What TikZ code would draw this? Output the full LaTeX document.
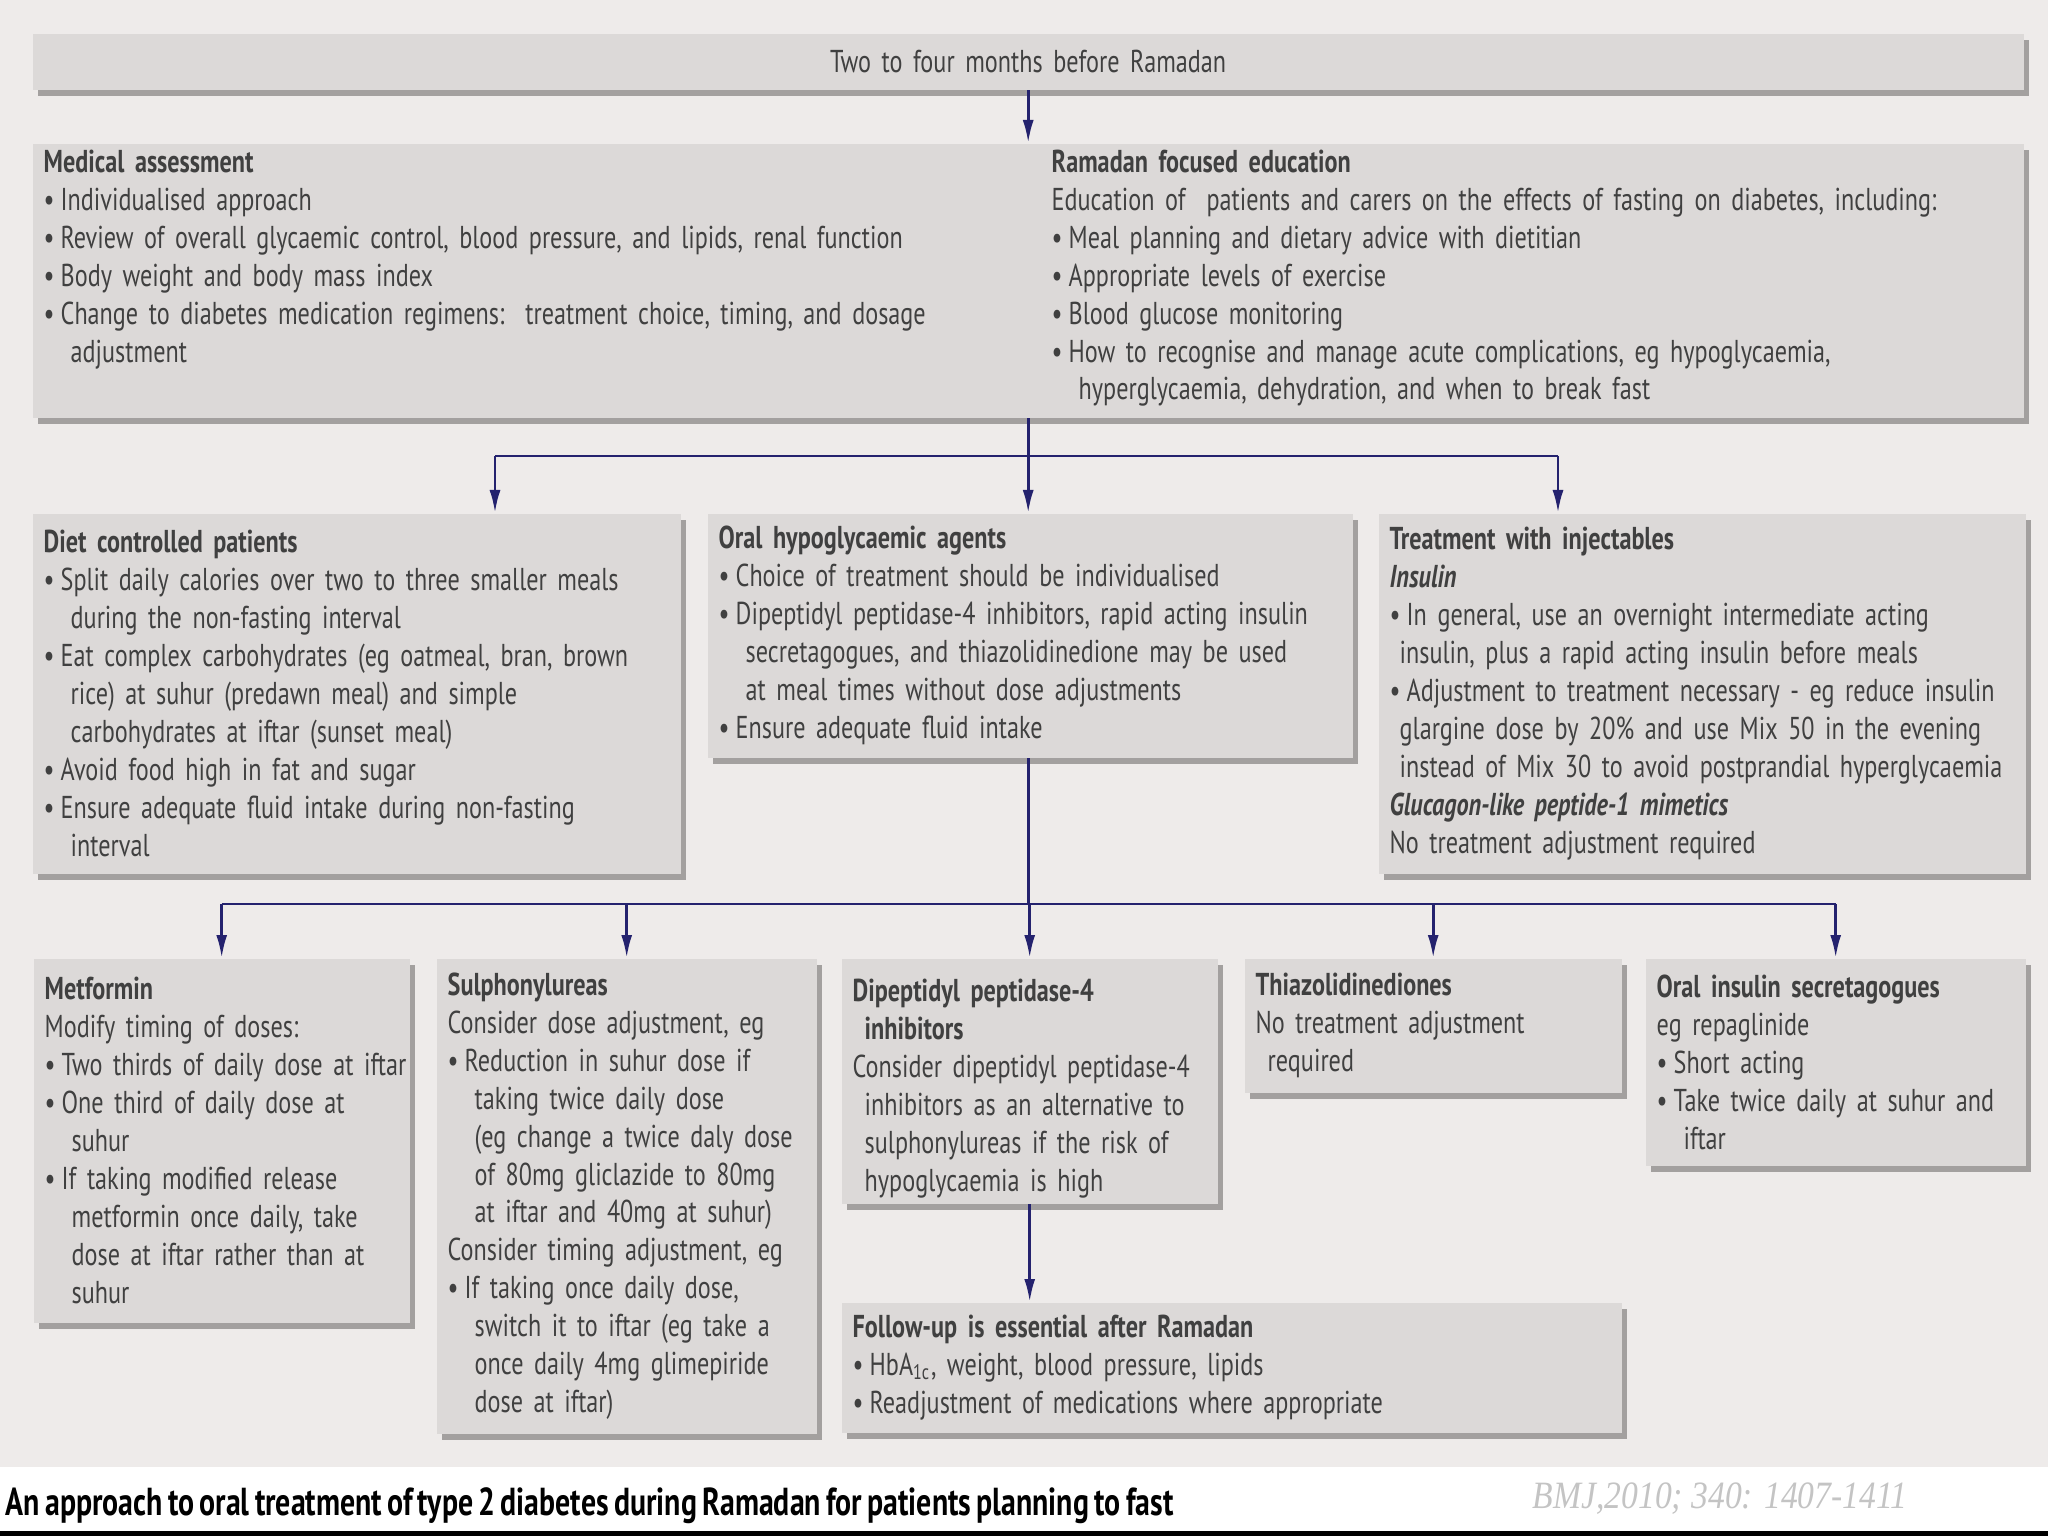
\documentclass[tikz,border=0pt]{standalone}
\usepackage{fontspec}
\setmainfont{PT Sans}[FakeStretch=0.765,WordSpace=0.7]
\newfontfamily\bmjfont{Liberation Serif}[FakeStretch=0.87]
\usepackage{xcolor}
\usetikzlibrary{arrows.meta,shadows}

\definecolor{panelgrey}{HTML}{EEEBEA}
\definecolor{boxgrey}{HTML}{DCD9D8}
\definecolor{shadowgrey}{HTML}{A3A09F}
\definecolor{textgrey}{HTML}{404040}
\definecolor{navy}{HTML}{24226E}
\definecolor{bmjgrey}{HTML}{C4C4C4}

\setlength{\parindent}{0pt}
% lines may run a little long instead of wrapping
\newcommand{\tight}{\rightskip=0pt plus 1fil minus 1cm\relax}
% bullet with hanging indent
\newcommand{\bul}[1][0.27cm]{\par\tight\hangindent=#1\hangafter=1\makebox[0.17cm][l]{\textbullet}}
\newcommand{\hang}[1][0.12cm]{\par\tight\hangindent=#1\hangafter=1}
\newcommand{\hd}[1]{\tight\textbf{#1}\par}

\begin{document}
\begin{tikzpicture}[
    panel/.style={fill=boxgrey, text=textgrey, anchor=north west, align=left,
      inner xsep=1.1mm, inner ysep=0.5mm, font=\fontsize{9}{10.8}\selectfont,
      drop shadow={shadow xshift=0.5mm, shadow yshift=-0.6mm, fill=shadowgrey, opacity=1}},
    link/.style={draw=navy, line width=0.8pt, -{Latex[length=2.3mm,width=1.1mm]}},
    branch/.style={draw=navy, line width=0.8pt}]
    \useasboundingbox (0,0) rectangle (20.48,-15.36);
    \fill[panelgrey] (0,0) rectangle (20.48,-14.67);

    \node[panel, text width=19.69cm, align=center, minimum height=0.56cm] (start) at (0.32,-0.33) {Two to four months before Ramadan};

    \node[panel, text width=19.69cm, minimum height=2.74cm] (prep) at (0.32,-1.43) {%
      \vspace*{0.05cm}%
      \begin{minipage}[t]{10.08cm}
        \hd{Medical assessment}
        \bul Individualised approach
        \bul Review of overall glycaemic control, blood pressure, and lipids, renal function
        \bul Body weight and body mass index
        \bul Change to diabetes medication regimens:\ \ treatment choice, timing, and dosage\newline adjustment\par
      \end{minipage}%
      \begin{minipage}[t]{9.61cm}
        \hd{Ramadan focused education}
        Education of\ \ patients and carers on the effects of fasting on diabetes, including:
        \bul Meal planning and dietary advice with dietitian
        \bul Appropriate levels of exercise
        \bul Blood glucose monitoring
        \bul How to recognise and manage acute complications, eg hypoglycaemia,\newline hyperglycaemia, dehydration, and when to break fast\par
      \end{minipage}};

    \node[panel, text width=6.26cm, minimum height=3.60cm] (diet) at (0.32,-5.13) {%
      \hd{Diet controlled patients}
      \bul Split daily calories over two to three smaller meals\newline during the non-fasting interval
      \bul Eat complex carbohydrates (eg oatmeal, bran, brown\newline rice) at suhur (predawn meal) and simple\newline carbohydrates at iftar (sunset meal)
      \bul Avoid food high in fat and sugar
      \bul Ensure adequate fluid intake during non-fasting\newline interval\par};

    \node[panel, text width=6.23cm, minimum height=2.44cm] (oral) at (7.07,-5.13) {%
      \hd{Oral hypoglycaemic agents}
      \bul Choice of treatment should be individualised
      \bul Dipeptidyl peptidase-4 inhibitors, rapid acting insulin\newline secretagogues, and thiazolidinedione may be used\newline at meal times without dose adjustments
      \bul Ensure adequate fluid intake\par};

    \node[panel, text width=6.25cm, minimum height=3.60cm] (inject) at (13.78,-5.13) {%
      \hd{Treatment with injectables}
      \textbf{\textit{Insulin}}
      \bul[0.1cm]In general, use an overnight intermediate acting\newline insulin, plus a rapid acting insulin before meals
      \bul[0.1cm]Adjustment to treatment necessary - eg reduce insulin\newline glargine dose by 20\% and use Mix 50 in the evening\newline instead of Mix 30 to avoid postprandial hyperglycaemia
      \par\textbf{\textit{Glucagon-like peptide-1 mimetics}}
      \par No treatment adjustment required\par};

    \node[panel, text width=3.54cm, minimum height=3.64cm] (met) at (0.33,-9.58) {%
      \hd{Metformin}
      Modify timing of doses:
      \bul Two thirds of daily dose at iftar
      \bul One third of daily dose at\newline suhur
      \bul If taking modified release\newline metformin once daily, take\newline dose at iftar rather than at\newline suhur\par};

    \node[panel, text width=3.58cm, minimum height=4.75cm] (sulph) at (4.36,-9.58) {%
      \hd{Sulphonylureas}
      Consider dose adjustment, eg
      \bul Reduction in suhur dose if\newline taking twice daily dose\newline (eg change a twice daly dose\newline of 80mg gliclazide to 80mg\newline at iftar and 40mg at suhur)
      \par Consider timing adjustment, eg
      \bul If taking once daily dose,\newline switch it to iftar (eg take a\newline once daily 4mg glimepiride\newline dose at iftar)\par};

    \node[panel, text width=3.54cm, minimum height=2.45cm] (dpp) at (8.41,-9.58) {%
      \hang\textbf{Dipeptidyl peptidase-4\newline inhibitors}
      \hang Consider dipeptidyl peptidase-4\newline inhibitors as an alternative to\newline sulphonylureas if the risk of\newline hypoglycaemia is high\par};

    \node[panel, text width=3.55cm, minimum height=1.34cm] (thiazo) at (12.44,-9.58) {%
      \hd{Thiazolidinediones}
      \hang No treatment adjustment\newline required\par};

    \node[panel, text width=3.58cm, minimum height=2.07cm] (ois) at (16.45,-9.58) {%
      \hd{Oral insulin secretagogues}
      eg repaglinide
      \bul Short acting
      \bul Take twice daily at suhur and\newline iftar\par};

    \node[panel, text width=7.58cm, minimum height=1.30cm] (follow) at (8.41,-13.02) {%
      \hd{Follow-up is essential after Ramadan}
      \bul HbA\textsubscript{1c}, weight, blood pressure, lipids
      \bul Readjustment of medications where appropriate\par};

    % connectors
    \path (prep.south) ++(0,-0.35) coordinate (forkM);
    \coordinate (fork2) at (forkM |- 0,-9.04);
    \coordinate (forkL) at (4.95,-4.56);
    \coordinate (forkR) at (15.58,-4.56);
    \draw[link] (start) -- (prep);
    \draw[branch] (prep) -- (forkM);
    \draw[branch] (forkL) -- (forkR);
    \draw[link] (forkL) -- (forkL |- diet.north);
    \draw[link] (forkM) -- (forkM |- oral.north);
    \draw[link] (forkR) -- (forkR |- inject.north);
    \draw[branch] (oral.south -| fork2) -- (fork2);
    \draw[branch] (met.north |- fork2) -- (ois.north |- fork2);
    \foreach \drug in {met,sulph,dpp,thiazo,ois}
      \draw[link] (\drug.north |- fork2) -- (\drug);
    \draw[link] (dpp) -- (dpp.south |- follow.north);

    % caption
    \node[anchor=west, inner sep=0pt, font=\bfseries\fontsize{11.1}{13}\selectfont] (caption) at (0.05,-15.06) {An approach to oral treatment of type 2 diabetes during Ramadan for patients planning to fast};
    \node[anchor=west, inner sep=0pt, text=bmjgrey, font=\bmjfont\itshape\fontsize{11}{13}\selectfont] (source) at (15.32,-14.99) {BMJ,2010; 340: 1407-1411};
    \fill[black] (0,-15.31) rectangle (20.48,-15.36);
\end{tikzpicture}
\end{document}
